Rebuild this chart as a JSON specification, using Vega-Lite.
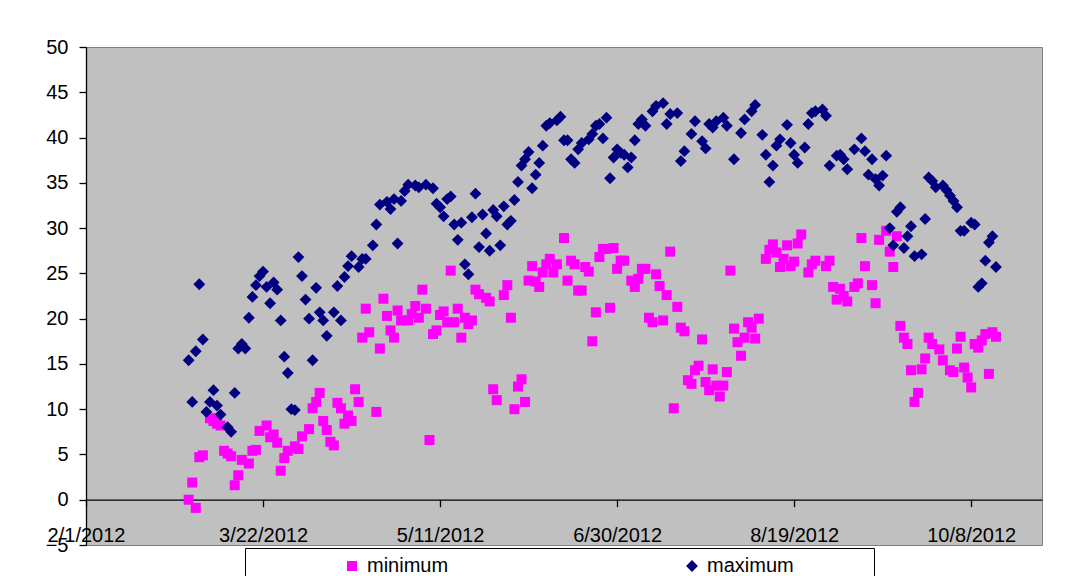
{
  "$schema": "https://vega.github.io/schema/vega-lite/v6.json",
  "width": 956,
  "height": 498,
  "autosize": "none",
  "padding": {"left": 86, "top": 47, "right": 44, "bottom": 31},
  "background": "white",
  "config": {
    "font": "Liberation Sans",
    "view": {"fill": "#C0C0C0", "stroke": "#808080", "strokeWidth": 1}
  },
  "data": {"values": [
    {"date":"2012-03-01","series":"minimum","temp":0.0},
    {"date":"2012-03-02","series":"minimum","temp":1.9},
    {"date":"2012-03-03","series":"minimum","temp":-0.9},
    {"date":"2012-03-04","series":"minimum","temp":4.7},
    {"date":"2012-03-05","series":"minimum","temp":4.9},
    {"date":"2012-03-07","series":"minimum","temp":9.0},
    {"date":"2012-03-08","series":"minimum","temp":8.7},
    {"date":"2012-03-09","series":"minimum","temp":8.4},
    {"date":"2012-03-10","series":"minimum","temp":8.2},
    {"date":"2012-03-11","series":"minimum","temp":5.4},
    {"date":"2012-03-12","series":"minimum","temp":5.1},
    {"date":"2012-03-13","series":"minimum","temp":4.8},
    {"date":"2012-03-14","series":"minimum","temp":1.6},
    {"date":"2012-03-15","series":"minimum","temp":2.7},
    {"date":"2012-03-16","series":"minimum","temp":4.4},
    {"date":"2012-03-18","series":"minimum","temp":4.0},
    {"date":"2012-03-19","series":"minimum","temp":5.4},
    {"date":"2012-03-20","series":"minimum","temp":5.5},
    {"date":"2012-03-21","series":"minimum","temp":7.6},
    {"date":"2012-03-23","series":"minimum","temp":8.2},
    {"date":"2012-03-24","series":"minimum","temp":6.9},
    {"date":"2012-03-25","series":"minimum","temp":7.2},
    {"date":"2012-03-26","series":"minimum","temp":6.3},
    {"date":"2012-03-27","series":"minimum","temp":3.2},
    {"date":"2012-03-28","series":"minimum","temp":4.6},
    {"date":"2012-03-29","series":"minimum","temp":5.4},
    {"date":"2012-03-31","series":"minimum","temp":5.9},
    {"date":"2012-04-01","series":"minimum","temp":5.6},
    {"date":"2012-04-02","series":"minimum","temp":7.0},
    {"date":"2012-04-04","series":"minimum","temp":7.8},
    {"date":"2012-04-05","series":"minimum","temp":10.1},
    {"date":"2012-04-06","series":"minimum","temp":10.8},
    {"date":"2012-04-07","series":"minimum","temp":11.8},
    {"date":"2012-04-08","series":"minimum","temp":8.7},
    {"date":"2012-04-09","series":"minimum","temp":7.7},
    {"date":"2012-04-10","series":"minimum","temp":6.4},
    {"date":"2012-04-11","series":"minimum","temp":6.0},
    {"date":"2012-04-12","series":"minimum","temp":10.7},
    {"date":"2012-04-13","series":"minimum","temp":10.1},
    {"date":"2012-04-14","series":"minimum","temp":8.4},
    {"date":"2012-04-15","series":"minimum","temp":9.3},
    {"date":"2012-04-16","series":"minimum","temp":8.7},
    {"date":"2012-04-17","series":"minimum","temp":12.2},
    {"date":"2012-04-18","series":"minimum","temp":10.8},
    {"date":"2012-04-19","series":"minimum","temp":17.9},
    {"date":"2012-04-20","series":"minimum","temp":21.1},
    {"date":"2012-04-21","series":"minimum","temp":18.5},
    {"date":"2012-04-23","series":"minimum","temp":9.7},
    {"date":"2012-04-24","series":"minimum","temp":16.7},
    {"date":"2012-04-25","series":"minimum","temp":22.2},
    {"date":"2012-04-26","series":"minimum","temp":20.3},
    {"date":"2012-04-27","series":"minimum","temp":18.7},
    {"date":"2012-04-28","series":"minimum","temp":17.9},
    {"date":"2012-04-29","series":"minimum","temp":20.9},
    {"date":"2012-04-30","series":"minimum","temp":19.8},
    {"date":"2012-05-02","series":"minimum","temp":19.8},
    {"date":"2012-05-03","series":"minimum","temp":20.5},
    {"date":"2012-05-04","series":"minimum","temp":21.4},
    {"date":"2012-05-05","series":"minimum","temp":20.1},
    {"date":"2012-05-06","series":"minimum","temp":23.2},
    {"date":"2012-05-07","series":"minimum","temp":21.1},
    {"date":"2012-05-08","series":"minimum","temp":6.6},
    {"date":"2012-05-09","series":"minimum","temp":18.3},
    {"date":"2012-05-10","series":"minimum","temp":18.7},
    {"date":"2012-05-11","series":"minimum","temp":20.4},
    {"date":"2012-05-12","series":"minimum","temp":20.8},
    {"date":"2012-05-13","series":"minimum","temp":19.6},
    {"date":"2012-05-14","series":"minimum","temp":25.3},
    {"date":"2012-05-15","series":"minimum","temp":19.6},
    {"date":"2012-05-16","series":"minimum","temp":21.1},
    {"date":"2012-05-17","series":"minimum","temp":17.9},
    {"date":"2012-05-18","series":"minimum","temp":20.1},
    {"date":"2012-05-19","series":"minimum","temp":19.4},
    {"date":"2012-05-20","series":"minimum","temp":19.8},
    {"date":"2012-05-21","series":"minimum","temp":23.2},
    {"date":"2012-05-22","series":"minimum","temp":22.7},
    {"date":"2012-05-24","series":"minimum","temp":22.3},
    {"date":"2012-05-25","series":"minimum","temp":21.9},
    {"date":"2012-05-26","series":"minimum","temp":12.2},
    {"date":"2012-05-27","series":"minimum","temp":11.0},
    {"date":"2012-05-29","series":"minimum","temp":22.6},
    {"date":"2012-05-30","series":"minimum","temp":23.7},
    {"date":"2012-05-31","series":"minimum","temp":20.1},
    {"date":"2012-06-01","series":"minimum","temp":10.0},
    {"date":"2012-06-02","series":"minimum","temp":12.5},
    {"date":"2012-06-03","series":"minimum","temp":13.3},
    {"date":"2012-06-04","series":"minimum","temp":10.8},
    {"date":"2012-06-05","series":"minimum","temp":24.2},
    {"date":"2012-06-06","series":"minimum","temp":25.8},
    {"date":"2012-06-07","series":"minimum","temp":24.1},
    {"date":"2012-06-08","series":"minimum","temp":23.5},
    {"date":"2012-06-09","series":"minimum","temp":25.1},
    {"date":"2012-06-10","series":"minimum","temp":26.0},
    {"date":"2012-06-11","series":"minimum","temp":26.6},
    {"date":"2012-06-12","series":"minimum","temp":25.1},
    {"date":"2012-06-13","series":"minimum","temp":26.0},
    {"date":"2012-06-15","series":"minimum","temp":28.9},
    {"date":"2012-06-16","series":"minimum","temp":24.2},
    {"date":"2012-06-17","series":"minimum","temp":26.4},
    {"date":"2012-06-18","series":"minimum","temp":26.0},
    {"date":"2012-06-19","series":"minimum","temp":23.1},
    {"date":"2012-06-20","series":"minimum","temp":23.1},
    {"date":"2012-06-21","series":"minimum","temp":25.7},
    {"date":"2012-06-22","series":"minimum","temp":25.2},
    {"date":"2012-06-23","series":"minimum","temp":17.5},
    {"date":"2012-06-24","series":"minimum","temp":20.7},
    {"date":"2012-06-25","series":"minimum","temp":26.8},
    {"date":"2012-06-26","series":"minimum","temp":27.7},
    {"date":"2012-06-27","series":"minimum","temp":27.7},
    {"date":"2012-06-28","series":"minimum","temp":21.2},
    {"date":"2012-06-29","series":"minimum","temp":27.8},
    {"date":"2012-06-30","series":"minimum","temp":25.5},
    {"date":"2012-07-01","series":"minimum","temp":26.4},
    {"date":"2012-07-02","series":"minimum","temp":26.4},
    {"date":"2012-07-04","series":"minimum","temp":24.2},
    {"date":"2012-07-05","series":"minimum","temp":23.5},
    {"date":"2012-07-06","series":"minimum","temp":24.4},
    {"date":"2012-07-07","series":"minimum","temp":25.5},
    {"date":"2012-07-08","series":"minimum","temp":25.5},
    {"date":"2012-07-09","series":"minimum","temp":20.1},
    {"date":"2012-07-10","series":"minimum","temp":19.6},
    {"date":"2012-07-11","series":"minimum","temp":24.9},
    {"date":"2012-07-12","series":"minimum","temp":23.6},
    {"date":"2012-07-13","series":"minimum","temp":19.8},
    {"date":"2012-07-14","series":"minimum","temp":22.6},
    {"date":"2012-07-15","series":"minimum","temp":27.4},
    {"date":"2012-07-16","series":"minimum","temp":10.1},
    {"date":"2012-07-17","series":"minimum","temp":21.3},
    {"date":"2012-07-18","series":"minimum","temp":19.0},
    {"date":"2012-07-19","series":"minimum","temp":18.6},
    {"date":"2012-07-20","series":"minimum","temp":13.2},
    {"date":"2012-07-21","series":"minimum","temp":12.8},
    {"date":"2012-07-22","series":"minimum","temp":14.3},
    {"date":"2012-07-23","series":"minimum","temp":14.8},
    {"date":"2012-07-24","series":"minimum","temp":17.7},
    {"date":"2012-07-25","series":"minimum","temp":13.0},
    {"date":"2012-07-26","series":"minimum","temp":12.1},
    {"date":"2012-07-27","series":"minimum","temp":14.4},
    {"date":"2012-07-28","series":"minimum","temp":12.6},
    {"date":"2012-07-29","series":"minimum","temp":11.4},
    {"date":"2012-07-30","series":"minimum","temp":12.6},
    {"date":"2012-07-31","series":"minimum","temp":14.1},
    {"date":"2012-08-01","series":"minimum","temp":25.3},
    {"date":"2012-08-02","series":"minimum","temp":18.9},
    {"date":"2012-08-03","series":"minimum","temp":17.4},
    {"date":"2012-08-04","series":"minimum","temp":15.9},
    {"date":"2012-08-05","series":"minimum","temp":17.9},
    {"date":"2012-08-06","series":"minimum","temp":19.6},
    {"date":"2012-08-07","series":"minimum","temp":19.0},
    {"date":"2012-08-08","series":"minimum","temp":17.8},
    {"date":"2012-08-09","series":"minimum","temp":20.0},
    {"date":"2012-08-11","series":"minimum","temp":26.6},
    {"date":"2012-08-12","series":"minimum","temp":27.6},
    {"date":"2012-08-13","series":"minimum","temp":28.2},
    {"date":"2012-08-14","series":"minimum","temp":27.3},
    {"date":"2012-08-15","series":"minimum","temp":25.7},
    {"date":"2012-08-16","series":"minimum","temp":26.6},
    {"date":"2012-08-17","series":"minimum","temp":28.1},
    {"date":"2012-08-18","series":"minimum","temp":25.8},
    {"date":"2012-08-19","series":"minimum","temp":26.3},
    {"date":"2012-08-20","series":"minimum","temp":28.3},
    {"date":"2012-08-21","series":"minimum","temp":29.3},
    {"date":"2012-08-23","series":"minimum","temp":25.1},
    {"date":"2012-08-24","series":"minimum","temp":26.0},
    {"date":"2012-08-25","series":"minimum","temp":26.4},
    {"date":"2012-08-28","series":"minimum","temp":25.8},
    {"date":"2012-08-29","series":"minimum","temp":26.4},
    {"date":"2012-08-30","series":"minimum","temp":23.5},
    {"date":"2012-08-31","series":"minimum","temp":22.1},
    {"date":"2012-09-01","series":"minimum","temp":23.3},
    {"date":"2012-09-02","series":"minimum","temp":22.5},
    {"date":"2012-09-03","series":"minimum","temp":21.9},
    {"date":"2012-09-05","series":"minimum","temp":23.5},
    {"date":"2012-09-06","series":"minimum","temp":23.9},
    {"date":"2012-09-07","series":"minimum","temp":28.9},
    {"date":"2012-09-08","series":"minimum","temp":25.8},
    {"date":"2012-09-10","series":"minimum","temp":23.7},
    {"date":"2012-09-11","series":"minimum","temp":21.7},
    {"date":"2012-09-12","series":"minimum","temp":28.7},
    {"date":"2012-09-14","series":"minimum","temp":29.7},
    {"date":"2012-09-15","series":"minimum","temp":27.4},
    {"date":"2012-09-16","series":"minimum","temp":25.7},
    {"date":"2012-09-17","series":"minimum","temp":29.1},
    {"date":"2012-09-18","series":"minimum","temp":19.2},
    {"date":"2012-09-19","series":"minimum","temp":17.9},
    {"date":"2012-09-20","series":"minimum","temp":17.2},
    {"date":"2012-09-21","series":"minimum","temp":14.3},
    {"date":"2012-09-22","series":"minimum","temp":10.8},
    {"date":"2012-09-23","series":"minimum","temp":11.8},
    {"date":"2012-09-24","series":"minimum","temp":14.4},
    {"date":"2012-09-25","series":"minimum","temp":15.6},
    {"date":"2012-09-26","series":"minimum","temp":17.9},
    {"date":"2012-09-27","series":"minimum","temp":17.2},
    {"date":"2012-09-29","series":"minimum","temp":16.6},
    {"date":"2012-09-30","series":"minimum","temp":15.4},
    {"date":"2012-10-02","series":"minimum","temp":14.3},
    {"date":"2012-10-03","series":"minimum","temp":14.1},
    {"date":"2012-10-04","series":"minimum","temp":16.7},
    {"date":"2012-10-05","series":"minimum","temp":18.0},
    {"date":"2012-10-06","series":"minimum","temp":14.6},
    {"date":"2012-10-07","series":"minimum","temp":13.5},
    {"date":"2012-10-08","series":"minimum","temp":12.4},
    {"date":"2012-10-09","series":"minimum","temp":17.2},
    {"date":"2012-10-10","series":"minimum","temp":16.8},
    {"date":"2012-10-11","series":"minimum","temp":17.6},
    {"date":"2012-10-12","series":"minimum","temp":18.3},
    {"date":"2012-10-13","series":"minimum","temp":13.9},
    {"date":"2012-10-14","series":"minimum","temp":18.5},
    {"date":"2012-10-15","series":"minimum","temp":18.0},
    {"date":"2012-03-01","series":"maximum","temp":15.4},
    {"date":"2012-03-02","series":"maximum","temp":10.8},
    {"date":"2012-03-03","series":"maximum","temp":16.4},
    {"date":"2012-03-04","series":"maximum","temp":23.8},
    {"date":"2012-03-05","series":"maximum","temp":17.7},
    {"date":"2012-03-06","series":"maximum","temp":9.7},
    {"date":"2012-03-07","series":"maximum","temp":10.8},
    {"date":"2012-03-08","series":"maximum","temp":12.1},
    {"date":"2012-03-09","series":"maximum","temp":10.4},
    {"date":"2012-03-10","series":"maximum","temp":9.4},
    {"date":"2012-03-12","series":"maximum","temp":8.0},
    {"date":"2012-03-13","series":"maximum","temp":7.5},
    {"date":"2012-03-14","series":"maximum","temp":11.8},
    {"date":"2012-03-15","series":"maximum","temp":16.7},
    {"date":"2012-03-16","series":"maximum","temp":17.2},
    {"date":"2012-03-17","series":"maximum","temp":16.7},
    {"date":"2012-03-18","series":"maximum","temp":20.1},
    {"date":"2012-03-19","series":"maximum","temp":22.4},
    {"date":"2012-03-20","series":"maximum","temp":23.7},
    {"date":"2012-03-21","series":"maximum","temp":24.7},
    {"date":"2012-03-22","series":"maximum","temp":25.2},
    {"date":"2012-03-23","series":"maximum","temp":23.5},
    {"date":"2012-03-24","series":"maximum","temp":21.7},
    {"date":"2012-03-25","series":"maximum","temp":24.0},
    {"date":"2012-03-26","series":"maximum","temp":23.2},
    {"date":"2012-03-27","series":"maximum","temp":19.8},
    {"date":"2012-03-28","series":"maximum","temp":15.8},
    {"date":"2012-03-29","series":"maximum","temp":14.0},
    {"date":"2012-03-30","series":"maximum","temp":10.0},
    {"date":"2012-03-31","series":"maximum","temp":9.9},
    {"date":"2012-04-01","series":"maximum","temp":26.8},
    {"date":"2012-04-02","series":"maximum","temp":24.7},
    {"date":"2012-04-03","series":"maximum","temp":22.1},
    {"date":"2012-04-04","series":"maximum","temp":20.0},
    {"date":"2012-04-05","series":"maximum","temp":15.4},
    {"date":"2012-04-06","series":"maximum","temp":23.4},
    {"date":"2012-04-07","series":"maximum","temp":20.7},
    {"date":"2012-04-08","series":"maximum","temp":19.8},
    {"date":"2012-04-09","series":"maximum","temp":18.1},
    {"date":"2012-04-11","series":"maximum","temp":20.7},
    {"date":"2012-04-12","series":"maximum","temp":23.6},
    {"date":"2012-04-13","series":"maximum","temp":19.8},
    {"date":"2012-04-14","series":"maximum","temp":24.6},
    {"date":"2012-04-15","series":"maximum","temp":25.8},
    {"date":"2012-04-16","series":"maximum","temp":26.9},
    {"date":"2012-04-18","series":"maximum","temp":25.7},
    {"date":"2012-04-19","series":"maximum","temp":26.6},
    {"date":"2012-04-20","series":"maximum","temp":26.6},
    {"date":"2012-04-22","series":"maximum","temp":28.1},
    {"date":"2012-04-23","series":"maximum","temp":30.4},
    {"date":"2012-04-24","series":"maximum","temp":32.6},
    {"date":"2012-04-26","series":"maximum","temp":32.9},
    {"date":"2012-04-27","series":"maximum","temp":32.1},
    {"date":"2012-04-28","series":"maximum","temp":33.2},
    {"date":"2012-04-29","series":"maximum","temp":28.3},
    {"date":"2012-04-30","series":"maximum","temp":33.0},
    {"date":"2012-05-01","series":"maximum","temp":34.1},
    {"date":"2012-05-02","series":"maximum","temp":34.8},
    {"date":"2012-05-04","series":"maximum","temp":34.7},
    {"date":"2012-05-05","series":"maximum","temp":34.5},
    {"date":"2012-05-07","series":"maximum","temp":34.8},
    {"date":"2012-05-09","series":"maximum","temp":34.4},
    {"date":"2012-05-10","series":"maximum","temp":32.7},
    {"date":"2012-05-11","series":"maximum","temp":32.3},
    {"date":"2012-05-12","series":"maximum","temp":31.3},
    {"date":"2012-05-13","series":"maximum","temp":33.2},
    {"date":"2012-05-14","series":"maximum","temp":33.5},
    {"date":"2012-05-15","series":"maximum","temp":30.4},
    {"date":"2012-05-16","series":"maximum","temp":28.7},
    {"date":"2012-05-17","series":"maximum","temp":30.6},
    {"date":"2012-05-18","series":"maximum","temp":26.0},
    {"date":"2012-05-19","series":"maximum","temp":24.9},
    {"date":"2012-05-20","series":"maximum","temp":31.2},
    {"date":"2012-05-21","series":"maximum","temp":33.8},
    {"date":"2012-05-22","series":"maximum","temp":27.9},
    {"date":"2012-05-23","series":"maximum","temp":31.5},
    {"date":"2012-05-24","series":"maximum","temp":29.4},
    {"date":"2012-05-25","series":"maximum","temp":27.5},
    {"date":"2012-05-26","series":"maximum","temp":32.0},
    {"date":"2012-05-27","series":"maximum","temp":31.3},
    {"date":"2012-05-28","series":"maximum","temp":28.1},
    {"date":"2012-05-29","series":"maximum","temp":32.4},
    {"date":"2012-05-30","series":"maximum","temp":30.4},
    {"date":"2012-05-31","series":"maximum","temp":30.8},
    {"date":"2012-06-01","series":"maximum","temp":33.1},
    {"date":"2012-06-02","series":"maximum","temp":35.1},
    {"date":"2012-06-03","series":"maximum","temp":36.9},
    {"date":"2012-06-04","series":"maximum","temp":37.6},
    {"date":"2012-06-05","series":"maximum","temp":38.4},
    {"date":"2012-06-06","series":"maximum","temp":34.4},
    {"date":"2012-06-07","series":"maximum","temp":35.9},
    {"date":"2012-06-08","series":"maximum","temp":37.2},
    {"date":"2012-06-09","series":"maximum","temp":39.1},
    {"date":"2012-06-10","series":"maximum","temp":41.3},
    {"date":"2012-06-11","series":"maximum","temp":41.6},
    {"date":"2012-06-13","series":"maximum","temp":41.9},
    {"date":"2012-06-14","series":"maximum","temp":42.3},
    {"date":"2012-06-15","series":"maximum","temp":39.7},
    {"date":"2012-06-16","series":"maximum","temp":39.7},
    {"date":"2012-06-17","series":"maximum","temp":37.6},
    {"date":"2012-06-18","series":"maximum","temp":37.2},
    {"date":"2012-06-19","series":"maximum","temp":38.7},
    {"date":"2012-06-20","series":"maximum","temp":39.4},
    {"date":"2012-06-22","series":"maximum","temp":39.8},
    {"date":"2012-06-23","series":"maximum","temp":40.4},
    {"date":"2012-06-24","series":"maximum","temp":41.3},
    {"date":"2012-06-25","series":"maximum","temp":41.5},
    {"date":"2012-06-26","series":"maximum","temp":39.9},
    {"date":"2012-06-27","series":"maximum","temp":42.2},
    {"date":"2012-06-28","series":"maximum","temp":35.5},
    {"date":"2012-06-29","series":"maximum","temp":37.8},
    {"date":"2012-06-30","series":"maximum","temp":38.7},
    {"date":"2012-07-01","series":"maximum","temp":38.3},
    {"date":"2012-07-02","series":"maximum","temp":38.1},
    {"date":"2012-07-03","series":"maximum","temp":36.7},
    {"date":"2012-07-04","series":"maximum","temp":37.8},
    {"date":"2012-07-05","series":"maximum","temp":39.7},
    {"date":"2012-07-06","series":"maximum","temp":41.5},
    {"date":"2012-07-07","series":"maximum","temp":42.0},
    {"date":"2012-07-08","series":"maximum","temp":41.3},
    {"date":"2012-07-10","series":"maximum","temp":42.9},
    {"date":"2012-07-11","series":"maximum","temp":43.5},
    {"date":"2012-07-13","series":"maximum","temp":43.8},
    {"date":"2012-07-14","series":"maximum","temp":41.5},
    {"date":"2012-07-15","series":"maximum","temp":42.6},
    {"date":"2012-07-17","series":"maximum","temp":42.7},
    {"date":"2012-07-18","series":"maximum","temp":37.4},
    {"date":"2012-07-19","series":"maximum","temp":38.5},
    {"date":"2012-07-21","series":"maximum","temp":40.4},
    {"date":"2012-07-22","series":"maximum","temp":41.8},
    {"date":"2012-07-24","series":"maximum","temp":39.6},
    {"date":"2012-07-25","series":"maximum","temp":38.8},
    {"date":"2012-07-26","series":"maximum","temp":41.5},
    {"date":"2012-07-27","series":"maximum","temp":41.1},
    {"date":"2012-07-28","series":"maximum","temp":41.8},
    {"date":"2012-07-30","series":"maximum","temp":42.2},
    {"date":"2012-07-31","series":"maximum","temp":41.3},
    {"date":"2012-08-02","series":"maximum","temp":37.6},
    {"date":"2012-08-04","series":"maximum","temp":40.5},
    {"date":"2012-08-05","series":"maximum","temp":42.0},
    {"date":"2012-08-07","series":"maximum","temp":42.9},
    {"date":"2012-08-08","series":"maximum","temp":43.6},
    {"date":"2012-08-10","series":"maximum","temp":40.3},
    {"date":"2012-08-11","series":"maximum","temp":38.1},
    {"date":"2012-08-12","series":"maximum","temp":35.1},
    {"date":"2012-08-13","series":"maximum","temp":36.9},
    {"date":"2012-08-14","series":"maximum","temp":39.1},
    {"date":"2012-08-15","series":"maximum","temp":39.8},
    {"date":"2012-08-17","series":"maximum","temp":41.4},
    {"date":"2012-08-18","series":"maximum","temp":39.4},
    {"date":"2012-08-19","series":"maximum","temp":38.1},
    {"date":"2012-08-20","series":"maximum","temp":37.2},
    {"date":"2012-08-22","series":"maximum","temp":38.9},
    {"date":"2012-08-23","series":"maximum","temp":41.5},
    {"date":"2012-08-24","series":"maximum","temp":42.7},
    {"date":"2012-08-25","series":"maximum","temp":42.9},
    {"date":"2012-08-27","series":"maximum","temp":43.1},
    {"date":"2012-08-28","series":"maximum","temp":42.4},
    {"date":"2012-08-29","series":"maximum","temp":36.9},
    {"date":"2012-08-31","series":"maximum","temp":38.0},
    {"date":"2012-09-01","series":"maximum","temp":38.1},
    {"date":"2012-09-02","series":"maximum","temp":37.6},
    {"date":"2012-09-03","series":"maximum","temp":36.5},
    {"date":"2012-09-05","series":"maximum","temp":38.7},
    {"date":"2012-09-07","series":"maximum","temp":39.9},
    {"date":"2012-09-08","series":"maximum","temp":38.5},
    {"date":"2012-09-09","series":"maximum","temp":35.9},
    {"date":"2012-09-10","series":"maximum","temp":37.6},
    {"date":"2012-09-11","series":"maximum","temp":35.4},
    {"date":"2012-09-12","series":"maximum","temp":34.7},
    {"date":"2012-09-13","series":"maximum","temp":35.8},
    {"date":"2012-09-14","series":"maximum","temp":38.0},
    {"date":"2012-09-15","series":"maximum","temp":30.0},
    {"date":"2012-09-16","series":"maximum","temp":28.1},
    {"date":"2012-09-17","series":"maximum","temp":31.8},
    {"date":"2012-09-18","series":"maximum","temp":32.3},
    {"date":"2012-09-19","series":"maximum","temp":27.8},
    {"date":"2012-09-20","series":"maximum","temp":29.1},
    {"date":"2012-09-21","series":"maximum","temp":30.2},
    {"date":"2012-09-22","series":"maximum","temp":26.9},
    {"date":"2012-09-24","series":"maximum","temp":27.1},
    {"date":"2012-09-25","series":"maximum","temp":31.0},
    {"date":"2012-09-26","series":"maximum","temp":35.6},
    {"date":"2012-09-27","series":"maximum","temp":35.2},
    {"date":"2012-09-28","series":"maximum","temp":34.5},
    {"date":"2012-09-30","series":"maximum","temp":34.7},
    {"date":"2012-10-01","series":"maximum","temp":34.2},
    {"date":"2012-10-02","series":"maximum","temp":33.6},
    {"date":"2012-10-03","series":"maximum","temp":33.0},
    {"date":"2012-10-04","series":"maximum","temp":32.3},
    {"date":"2012-10-05","series":"maximum","temp":29.7},
    {"date":"2012-10-06","series":"maximum","temp":29.7},
    {"date":"2012-10-08","series":"maximum","temp":30.6},
    {"date":"2012-10-09","series":"maximum","temp":30.4},
    {"date":"2012-10-10","series":"maximum","temp":23.5},
    {"date":"2012-10-11","series":"maximum","temp":23.9},
    {"date":"2012-10-12","series":"maximum","temp":26.4},
    {"date":"2012-10-13","series":"maximum","temp":28.4},
    {"date":"2012-10-14","series":"maximum","temp":29.1},
    {"date":"2012-10-15","series":"maximum","temp":25.7}
  ]},
  "mark": {"type": "point", "filled": true, "opacity": 1, "strokeWidth": 0},
  "encoding": {
    "x": {
      "field": "date",
      "type": "temporal",
      "scale": {
        "type": "utc",
        "nice": false,
        "domain": [
          {"year": 2012, "month": 2, "date": 1, "utc": true},
          {"year": 2012, "month": 10, "date": 28, "utc": true}
        ]
      },
      "axis": {
        "title": null,
        "offset": -45.3,
        "values": [
          {"year": 2012, "month": 2, "date": 1, "utc": true},
          {"year": 2012, "month": 3, "date": 22, "utc": true},
          {"year": 2012, "month": 5, "date": 11, "utc": true},
          {"year": 2012, "month": 6, "date": 30, "utc": true},
          {"year": 2012, "month": 8, "date": 19, "utc": true},
          {"year": 2012, "month": 10, "date": 8, "utc": true}
        ],
        "format": "%-m/%-d/%Y",
        "grid": false,
        "domainColor": "black",
        "domainWidth": 1.3,
        "tickColor": "black",
        "tickWidth": 1.3,
        "tickSize": 7,
        "labelFont": "Liberation Sans",
        "labelFontSize": 20,
        "labelColor": "black",
        "labelPadding": 19,
        "labelOverlap": false,
        "labelFlush": false
      }
    },
    "y": {
      "field": "temp",
      "type": "quantitative",
      "scale": {"domain": [-5, 50], "nice": false, "zero": false},
      "axis": {
        "title": null,
        "values": [-5, 0, 5, 10, 15, 20, 25, 30, 35, 40, 45, 50],
        "grid": false,
        "domainColor": "black",
        "domainWidth": 1.3,
        "tickColor": "black",
        "tickWidth": 1.3,
        "tickSize": 7,
        "labelFont": "Liberation Sans",
        "labelFontSize": 20,
        "labelColor": "black",
        "labelPadding": 11,
        "labelOverlap": false,
        "labelFlush": false
      }
    },
    "color": {
      "field": "series",
      "type": "nominal",
      "scale": {"domain": ["minimum", "maximum"], "range": ["#FF00FF", "#000080"]},
      "legend": {
        "orient": "none",
        "legendX": 159,
        "legendY": 501,
        "direction": "horizontal",
        "title": "\u00a0",
        "titleOrient": "left",
        "titlePadding": 89,
        "titleFontSize": 20,
        "fillColor": "white",
        "strokeColor": "black",
        "padding": 8,
        "labelFont": "Liberation Sans",
        "labelFontSize": 20,
        "labelColor": "black",
        "labelOffset": 5,
        "labelLimit": 400,
        "columnPadding": 233,
        "symbolStrokeWidth": 0,
        "symbolOpacity": 1,
        "labelExpr": "datum.label == 'maximum' ? datum.label + '\u00a0\u00a0\u00a0\u00a0\u00a0\u00a0\u00a0\u00a0\u00a0\u00a0\u00a0\u00a0\u00a0\u200b' : datum.label"
      }
    },
    "shape": {
      "field": "series",
      "type": "nominal",
      "scale": {"domain": ["minimum", "maximum"], "range": ["square", "diamond"]}
    },
    "size": {
      "field": "series",
      "type": "nominal",
      "scale": {"domain": ["minimum", "maximum"], "range": [100, 140]}
    }
  }
}
